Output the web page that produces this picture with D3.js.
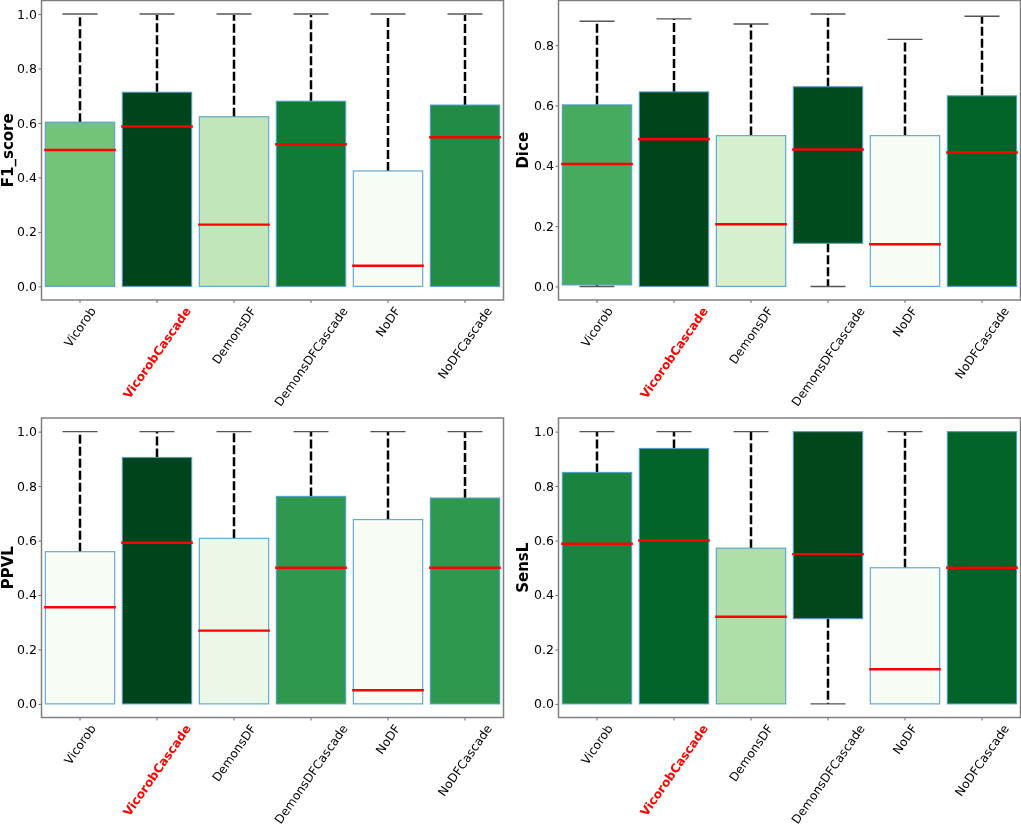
<!DOCTYPE html>
<html>
<head>
<meta charset="utf-8">
<script src="https://cdnjs.cloudflare.com/ajax/libs/d3/7.8.5/d3.min.js"></script>
<style>
html, body { margin: 0; padding: 0; background: #fff; }
svg { display: block; font-family: "DejaVu Sans", sans-serif; filter: blur(0.3px); }
</style>
</head>
<body>
<div id="chart"></div>
<script>
var methods = ["Vicorob", "VicorobCascade", "DemonsDF", "DemonsDFCascade", "NoDF", "NoDFCascade"];
var highlighted = "VicorobCascade";

var ticksFull = [0, 0.2, 0.4, 0.6, 0.8, 1.0];
var ticksDice = [0, 0.2, 0.4, 0.6, 0.8];

// values, same order as methods
var f1Low    = [0, 0, 0, 0, 0, 0];
var f1Q1     = [0, 0, 0, 0, 0, 0];
var f1Median = [0.501, 0.587, 0.227, 0.522, 0.076, 0.548];
var f1Q3     = [0.603, 0.713, 0.623, 0.68, 0.424, 0.666];
var f1High   = [1, 1, 1, 1, 1, 1];
var f1Shade  = [0.5, 1, 0.27, 0.82, 0, 0.75];

var diceLow    = [0, 0, 0, 0, 0, 0];
var diceQ1     = [0.005, 0, 0, 0.143, 0, 0];
var diceMedian = [0.406, 0.488, 0.206, 0.454, 0.14, 0.444];
var diceQ3     = [0.602, 0.645, 0.5, 0.662, 0.5, 0.632];
var diceHigh   = [0.879, 0.887, 0.87, 0.903, 0.819, 0.896];
var diceShade  = [0.62, 1, 0.19, 0.98, 0, 0.9];

var ppvlLow    = [0, 0, 0, 0, 0, 0];
var ppvlQ1     = [0, 0, 0, 0, 0, 0];
var ppvlMedian = [0.355, 0.592, 0.269, 0.5, 0.05, 0.5];
var ppvlQ3     = [0.559, 0.905, 0.608, 0.762, 0.677, 0.756];
var ppvlHigh   = [1, 1, 1, 1, 1, 1];
var ppvlShade  = [0, 1, 0.08, 0.7, 0, 0.7];

var sensLow    = [0, 0, 0, 0, 0, 0];
var sensQ1     = [0, 0, 0, 0.313, 0, 0];
var sensMedian = [0.588, 0.6, 0.32, 0.55, 0.127, 0.5];
var sensQ3     = [0.85, 0.938, 0.572, 1, 0.5, 1];
var sensHigh   = [1, 1, 1, 1, 1, 1];
var sensShade  = [0.78, 0.9, 0.33, 0.99, 0, 0.9];

var panels = [
  {name: "F1_score", left: 41.5, top: 0.5, yDomain: [-0.05, 1.05], ticks: ticksFull, labelX: 7.5, capColor: "#808080", capWidth: 2,
   low: f1Low, q1: f1Q1, median: f1Median, q3: f1Q3, high: f1High, shade: f1Shade},
  {name: "Dice", left: 558.5, top: 0.5, yDomain: [-0.045, 0.948], ticks: ticksDice, labelX: 523, capColor: "#555", capWidth: 1.4,
   low: diceLow, q1: diceQ1, median: diceMedian, q3: diceQ3, high: diceHigh, shade: diceShade},
  {name: "PPVL", left: 41.5, top: 418, yDomain: [-0.05, 1.05], ticks: ticksFull, labelX: 7.5, capColor: "#555", capWidth: 1.4,
   low: ppvlLow, q1: ppvlQ1, median: ppvlMedian, q3: ppvlQ3, high: ppvlHigh, shade: ppvlShade},
  {name: "SensL", left: 558.5, top: 418, yDomain: [-0.05, 1.05], ticks: ticksFull, labelX: 523, capColor: "#555", capWidth: 1.4,
   low: sensLow, q1: sensQ1, median: sensMedian, q3: sensQ3, high: sensHigh, shade: sensShade}
];

var svg = d3.select("#chart").append("svg")
    .attr("width", 1021)
    .attr("height", 826);

var green = d3.scaleSequential(d3.interpolateGreens).domain([0, 1]);
var w = 462, h = 299.5;

panels.forEach(function(p) {
  var g = svg.append("g").attr("transform", "translate(" + p.left + "," + p.top + ")");

  var x = d3.scaleBand().domain(methods).range([0, w]).paddingInner(0.1).paddingOuter(0.05);
  var y = d3.scaleLinear().domain(p.yDomain).range([h, 0]);
  var mid = function(m) { return x(m) + x.bandwidth() / 2; };
  var capHalf = x.step() * 0.227;

  var rows = methods.map(function(m, i) {
    return {m: m, low: p.low[i], q1: p.q1[i], median: p.median[i], q3: p.q3[i], high: p.high[i], shade: p.shade[i]};
  });

  // whiskers and caps go under the boxes, nothing to draw when the box reaches the end
  rows.forEach(function(d) {
    [[d.q3, d.high], [d.q1, d.low]].forEach(function(pair) {
      if (pair[0] === pair[1]) return;
      g.append("line")
          .attr("x1", mid(d.m)).attr("x2", mid(d.m))
          .attr("y1", y(pair[0])).attr("y2", y(pair[1]))
          .attr("stroke", "#000")
          .attr("stroke-width", 2.5)
          .attr("stroke-dasharray", "9,3");
      g.append("line")
          .attr("x1", mid(d.m) - capHalf).attr("x2", mid(d.m) + capHalf)
          .attr("y1", y(pair[1])).attr("y2", y(pair[1]))
          .attr("stroke", p.capColor)
          .attr("stroke-width", p.capWidth);
    });
  });

  g.selectAll("rect.box").data(rows).enter().append("rect")
      .attr("class", "box")
      .attr("x", function(d) { return x(d.m); })
      .attr("width", x.bandwidth())
      .attr("y", function(d) { return y(d.q3); })
      .attr("height", function(d) { return y(d.q1) - y(d.q3); })
      .attr("fill", function(d) { return green(d.shade); })
      .attr("stroke", "#4f9bcb")
      .attr("stroke-opacity", 0.85)
      .attr("stroke-width", 1.2);

  g.selectAll("line.median").data(rows).enter().append("line")
      .attr("class", "median")
      .attr("x1", function(d) { return x(d.m); })
      .attr("x2", function(d) { return x(d.m) + x.bandwidth(); })
      .attr("y1", function(d) { return y(d.median); })
      .attr("y2", function(d) { return y(d.median); })
      .attr("stroke", "#f00")
      .attr("stroke-width", 2.4)
      .attr("stroke-linecap", "square");

  var yAxis = g.append("g")
      .call(d3.axisLeft(y).tickValues(p.ticks).tickFormat(d3.format(".1f")).tickSize(3).tickPadding(1.5));
  yAxis.select(".domain").remove();
  yAxis.selectAll("line").attr("stroke", "#444").attr("stroke-width", 0.8);
  yAxis.selectAll("text").attr("font-size", 12.5).attr("font-family", "DejaVu Sans").attr("fill", "#000");

  var xAxis = g.append("g")
      .attr("transform", "translate(0," + h + ")")
      .call(d3.axisBottom(x).tickSize(3));
  xAxis.select(".domain").remove();
  xAxis.selectAll("line").attr("stroke", "#444").attr("stroke-width", 0.8);

  // rotated labels: centred under the tick like matplotlib does it
  xAxis.selectAll("text")
      .attr("font-size", 12.1)
      .attr("font-family", "DejaVu Sans")
      .attr("font-weight", function(d) { return d === highlighted ? "bold" : "normal"; })
      .attr("fill", function(d) { return d === highlighted ? "#f00" : "#000"; })
      .attr("text-anchor", "middle")
      .attr("y", 0)
      .attr("dy", "0.35em")
      .each(function() {
        var len = this.getComputedTextLength();
        var a = 55 * Math.PI / 180;
        var off = 5 + (len * Math.sin(a) + 12 * Math.cos(a)) / 2;
        d3.select(this).attr("transform", "translate(0," + off + ") rotate(-55)");
      });

  g.append("rect")
      .attr("width", w).attr("height", h)
      .attr("fill", "none")
      .attr("stroke", "#808080")
      .attr("stroke-width", 1.5);

  svg.append("text")
      .attr("transform", "translate(" + p.labelX + "," + (p.top + h / 2) + ") rotate(-90)")
      .attr("text-anchor", "middle")
      .attr("dy", "0.35em")
      .attr("font-size", 15)
      .attr("font-weight", "bold")
      .text(p.name);
});
</script>
</body>
</html>
